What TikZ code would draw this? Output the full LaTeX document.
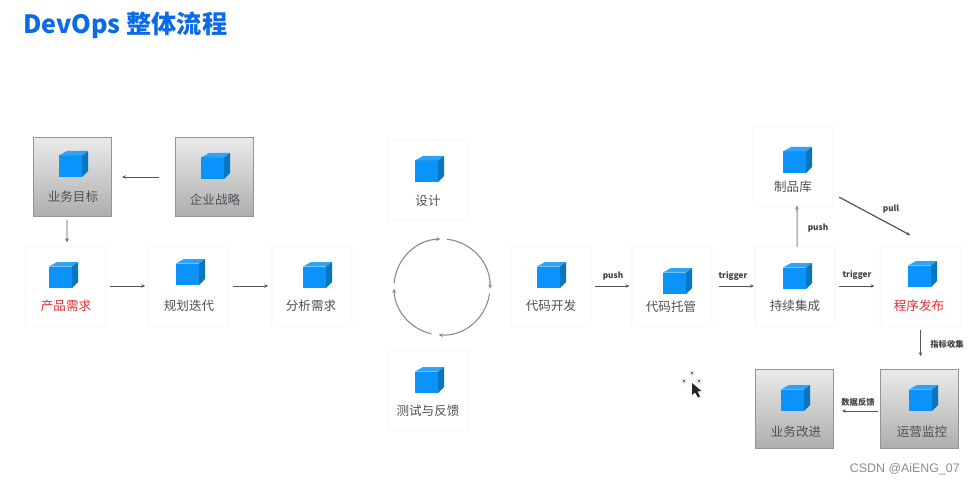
\documentclass[tikz,border=0pt]{standalone}
\usepackage{fontspec}
\setmainfont{Noto Sans CJK SC}
\newfontfamily\wmfont{Liberation Sans}
\usetikzlibrary{arrows.meta,shadows}
\definecolor{cubefront}{HTML}{0A94FB}
\definecolor{cubetop}{HTML}{2FA4F6}
\definecolor{cubeside}{HTML}{0676BE}
\definecolor{labelgray}{HTML}{4C5158}
\definecolor{labelred}{HTML}{DE2F33}
\definecolor{titleblue}{HTML}{0B6BE6}
\definecolor{linedark}{HTML}{555555}
\definecolor{linesoft}{HTML}{85898F}
\tikzset{
  x=0.75pt,y=-0.75pt,
  softedge/.style={
    preaction={draw=black!1,line width=3.5pt},
    preaction={draw=black!2,line width=1.6pt}},
  whitebox/.style={shape=rectangle,fill=white,minimum width=58.5pt,minimum height=58pt,inner sep=0pt,softedge},
  graybox/.style={shape=rectangle,draw=black!42,line width=0.8pt,top color=black!8,bottom color=black!32,
    minimum width=58.5pt,minimum height=59.5pt,inner sep=0pt},
  caption/.style={text=labelgray,font=\fontsize{9.4}{11}\selectfont,inner sep=0pt},
  alert/.style={caption,text=labelred},
  tag/.style={text=black!75,font=\fontsize{6.2}{8}\selectfont\bfseries,inner sep=0pt},
  flow/.style={draw=linedark,line width=0.7pt,-{Stealth[length=3pt,width=2.6pt]}},
  softflow/.style={draw=linesoft,line width=0.8pt,-{Stealth[length=3.2pt,width=2.8pt]}},
  cube/.pic={
    \fill[cubefront] (0,4.5) rectangle (23,26);
    \fill[cubetop] (0,4.5) -- (8,0) -- (29,0) -- (23,4.5) -- cycle;
    \fill[cubeside] (23,4.5) -- (29,0) -- (29,20) -- (23,26) -- cycle;
  }
}
\begin{document}
\begin{tikzpicture}
\useasboundingbox (0,0) rectangle (976,485);
\fill[white] (0,0) rectangle (976,485);

% heading
\node[anchor=west,inner sep=0pt,text=titleblue,font=\fontsize{18.9}{22}\selectfont\bfseries] (heading) at (23,25) {DevOps 整体流程};

% boxes
\node[graybox] (goal) at (72.5,177) {};
\node[graybox] (strategy) at (214.5,177) {};
\node[whitebox] (req) at (65.5,286) {};
\node[whitebox] (plan) at (188.5,286) {};
\node[whitebox] (analysis) at (311.5,286) {};
\node[whitebox] (design) at (428.5,180) {};
\node[whitebox] (test) at (428.5,390.5) {};
\node[whitebox] (dev) at (551,286) {};
\node[whitebox] (repo) at (671.5,286) {};
\node[whitebox] (ci) at (794.5,286) {};
\node[whitebox] (release) at (920.5,286) {};
\node[whitebox] (artifact) at (793,166.5) {};
\node[graybox] (ops) at (919.5,409) {};
\node[graybox] (improve) at (794.5,409) {};

% cubes
\foreach \cx/\cy in {59/151,201/153,49/262,176/259,303/262,415/156,415/367,537/262,663/268,783/263,908/261,783/147,909/385,781/385}
  \pic at (\cx,\cy) {cube};

% box captions
\node[caption] (goalt) at (73,197) {业务目标};
\node[caption] (strategyt) at (215,200) {企业战略};
\node[alert] (reqt) at (66,306) {产品需求};
\node[caption] (plant) at (189,306) {规划迭代};
\node[caption] (analysist) at (311,306) {分析需求};
\node[caption] (designt) at (428,201) {设计};
\node[caption] (testt) at (428,411) {测试与反馈};
\node[caption] (devt) at (551,306) {代码开发};
\node[caption] (repot) at (671,307) {代码托管};
\node[caption] (cit) at (795,306) {持续集成};
\node[alert] (releaset) at (919,306) {程序发布};
\node[caption] (artifactt) at (793,187) {制品库};
\node[caption] (opst) at (922,432) {运营监控};
\node[caption] (improvet) at (796,432) {业务改进};

% connectors
\draw[flow,shorten <=12pt,shorten >=7.5pt] (strategy) -- (goal);
\draw[flow,shorten <=2.2pt,shorten >=3.7pt] ([xshift=-4.1pt]goal.south) -- ([xshift=1.1pt]req.north);
\draw[flow,shorten <=3.8pt,shorten >=3pt] (req) -- (plan);
\draw[flow,shorten <=3.8pt,shorten >=3pt] (plan) -- (analysis);
\draw[flow,shorten <=3.8pt,shorten >=2pt] (dev) -- (repo);
\draw[flow,shorten <=6pt,shorten >=1pt] (repo) -- (ci);
\draw[flow,shorten <=3.8pt,shorten >=5pt] (ci) -- (release);
\draw[softflow] ([xshift=2pt]ci.north) -- ([xshift=3pt]artifact.south);
\draw[flow,line width=0.9pt,shorten <=5.9pt,shorten >=18.8pt] ([yshift=-20.2pt]artifact.east) -- ([xshift=9pt]release.north);
\draw[flow,shorten <=3.8pt,shorten >=9.5pt] (release) -- (release |- ops.north);
\draw[flow,shorten <=1.5pt,shorten >=6pt] (ops.west |- 0,411) -- (improve.east |- 0,411);

% connector tags
\node[tag] (t1) at (613,276) {push};
\node[tag] (t2) at (733,276) {trigger};
\node[tag] (t3) at (857,275) {trigger};
\node[tag] (t4) at (818,228) {push};
\node[tag] (t5) at (891,209) {pull};
\node[tag] (t6) at (947,344) {指标收集};
\node[tag] (t7) at (858,402) {数据反馈};

% iteration ring
\coordinate (ring) at (442,287);
\foreach \a/\b in {-175/-92,-84/2,8/94,103/178}
  \draw[softflow] ([shift={(\a:48)}]ring) arc[start angle=\a,end angle=\b,radius=48];

% pointer
\coordinate (pointer) at (692,383);
\fill[black!8] (pointer) ++(0,-10) circle (3.5);
\fill[black!8] (pointer) ++(-8,-2) circle (3.5);
\fill[black!8] (pointer) ++(7,-2) circle (3.5);
\fill[black!75] (692,373) circle (1.2) (684,381) circle (1.2) (699,381) circle (1.2) (693,390) circle (1);
\fill[black!85] (pointer) -- ++(0,12) -- ++(3,-2.5) -- ++(3,5) -- ++(2,-1) -- ++(-2.5,-5) -- ++(4,-0.5) -- cycle;

% watermark
\node[anchor=east,inner sep=0pt,text=black!45,font=\wmfont\fontsize{9.3}{11}\selectfont] (mark) at (960,469) {CSDN @AiENG\_07};
\end{tikzpicture}
\end{document}
